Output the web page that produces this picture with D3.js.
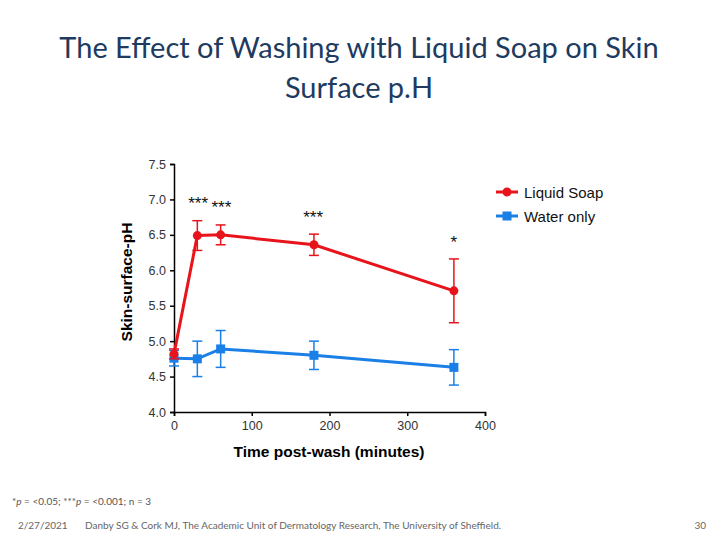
<!DOCTYPE html>
<html><head><meta charset="utf-8">
<script src="https://cdn.jsdelivr.net/npm/d3@7"></script>
<style>body{margin:0;background:#fff;}svg{display:block;}</style>
</head><body>
<svg id="c" width="720" height="540"></svg>
<script>
const times = [0, 30, 60, 180, 360];
const soapMean = [4.82, 6.49, 6.50, 6.36, 5.71];
const soapErr = [0.07, 0.21, 0.14, 0.15, 0.45];
const waterMean = [4.76, 4.75, 4.89, 4.80, 4.63];
const waterErr = [0.11, 0.25, 0.26, 0.20, 0.25];
const sigTimes = [31, 61, 179, 360];
const sigLabels = ["***", "***", "***", "*"];
const sigY = [6.865, 6.81, 6.67, 6.32];
const xTicks = [0, 100, 200, 300, 400];
const yTicks = [4.0, 4.5, 5.0, 5.5, 6.0, 6.5, 7.0, 7.5];
const seriesNames = ["Liquid Soap", "Water only"];
const colors = ["#e8141b", "#1a7fe6"];

const svg = d3.select("#c");
const x = d3.scaleLinear().domain([0, 400]).range([174, 485]);
const y = d3.scaleLinear().domain([4.0, 7.5]).range([412, 164]);

// Title
const title = svg.append("text").attr("text-anchor","middle").attr("fill","#203a60")
  .style("font-family","Lato, 'Open Sans', sans-serif").style("font-size","29px");
title.append("tspan").attr("x",359).attr("y",58).text("The Effect of Washing with Liquid Soap on Skin");
title.append("tspan").attr("x",359).attr("y",98).text("Surface p.H");

// Axes
const axFont = "Liberation Sans, Arial, sans-serif";
const gx = svg.append("g").attr("transform","translate(0,412)")
  .call(d3.axisBottom(x).tickValues(xTicks).tickSize(4).tickFormat(d3.format("d")));
const gy = svg.append("g").attr("transform","translate(174,0)")
  .call(d3.axisLeft(y).tickValues(yTicks).tickSize(4).tickFormat(d3.format(".1f")));
[gx, gy].forEach(g => {
  g.select(".domain").attr("stroke","#000").attr("stroke-width",1.5);
  g.selectAll(".tick line").attr("stroke","#000").attr("stroke-width",1.5);
  g.selectAll(".tick text").attr("fill","#333").style("font-family",axFont).style("font-size","12.5px");
});
gx.selectAll(".tick text").attr("dy","0.9em");
gy.selectAll(".tick text").attr("dx","-1px");

svg.append("text").attr("transform","translate(132,282) rotate(-90)").attr("text-anchor","middle")
  .style("font-family",axFont).style("font-size","15.5px").style("font-weight","bold").text("Skin-surface-pH");
svg.append("text").attr("x",329).attr("y",457).attr("text-anchor","middle")
  .style("font-family",axFont).style("font-size","15.5px").style("font-weight","bold").text("Time post-wash (minutes)");

// Series
const data = [
  times.map((t,i)=>({t, m: soapMean[i], e: soapErr[i]})),
  times.map((t,i)=>({t, m: waterMean[i], e: waterErr[i]}))
];
const line = d3.line().x(d=>x(d.t)).y(d=>y(d.m));
[1,0].forEach(k => {
  const g = svg.append("g");
  const c = colors[k];
  data[k].forEach(d => {
    g.append("line").attr("x1",x(d.t)).attr("x2",x(d.t)).attr("y1",y(d.m+d.e)).attr("y2",y(d.m-d.e)).attr("stroke",c).attr("stroke-width",1.5);
    [d.m+d.e, d.m-d.e].forEach(v => g.append("line").attr("x1",x(d.t)-5).attr("x2",x(d.t)+5).attr("y1",y(v)).attr("y2",y(v)).attr("stroke",c).attr("stroke-width",1.5));
  });
  g.append("path").datum(data[k]).attr("d",line).attr("fill","none").attr("stroke",c).attr("stroke-width",3);
  if (k===0) {
    g.selectAll("circle").data(data[k]).join("circle").attr("cx",d=>x(d.t)).attr("cy",d=>y(d.m)).attr("r",4.5).attr("fill",c);
  } else {
    g.selectAll("rect").data(data[k]).join("rect").attr("x",d=>x(d.t)-4.5).attr("y",d=>y(d.m)-4.5).attr("width",9).attr("height",9).attr("fill",c);
  }
});

// Significance
sigTimes.forEach((t,i) => {
  svg.append("text").attr("x",x(t)).attr("y",y(sigY[i])).attr("text-anchor","middle")
    .style("font-family",axFont).style("font-size","17px").attr("fill","#111").text(sigLabels[i]);
});

// Legend
seriesNames.forEach((n,i) => {
  const yy = 192 + i*24;
  svg.append("line").attr("x1",496).attr("x2",518).attr("y1",yy).attr("y2",yy).attr("stroke",colors[i]).attr("stroke-width",3);
  if (i===0) svg.append("circle").attr("cx",507).attr("cy",yy).attr("r",4.5).attr("fill",colors[i]);
  else svg.append("rect").attr("x",502.5).attr("y",yy-4.5).attr("width",9).attr("height",9).attr("fill",colors[i]);
  svg.append("text").attr("x",524).attr("y",yy+5.5).style("font-family",axFont).style("font-size","15px").attr("fill","#111").text(n);
});

// Footer
const ff = "Lato, 'Open Sans', sans-serif";
const fn = svg.append("text").attr("x",12).attr("y",505).style("font-family",ff).style("font-size","10px").attr("fill","#555");
fn.append("tspan").text("*");
fn.append("tspan").style("font-style","italic").text("p");
fn.append("tspan").text(" = <0.05; ***");
fn.append("tspan").style("font-style","italic").text("p");
fn.append("tspan").text(" = <0.001; n = 3");
svg.append("text").attr("x",18).attr("y",529).style("font-family",ff).style("font-size","10px").attr("fill","#666").text("2/27/2021");
svg.append("text").attr("x",85).attr("y",529).style("font-family",ff).style("font-size","10px").attr("fill","#666")
  .text("Danby SG & Cork MJ, The Academic Unit of Dermatology Research, The University of Sheffield.");
svg.append("text").attr("x",706).attr("y",529).attr("text-anchor","end").style("font-family",ff).style("font-size","10px").attr("fill","#666").text("30");
</script>
</body></html>
